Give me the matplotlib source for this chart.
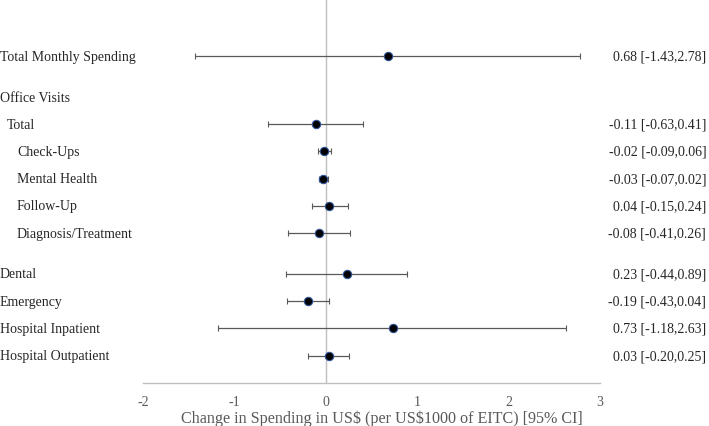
import matplotlib

matplotlib.use("Agg")

import matplotlib.pyplot as plt
import matplotlib.transforms as mtransforms

plt.rcParams["font.family"] = ["Liberation Serif", "DejaVu Serif"]

labels = [
    "Total Monthly Spending",
    "Office Visits",
    "Total",
    "Check-Ups",
    "Mental Health",
    "Follow-Up",
    "Diagnosis/Treatment",
    "Dental",
    "Emergency",
    "Hospital Inpatient",
    "Hospital Outpatient",
]
indent = [0, 0, 1, 2, 2, 2, 2, 0, 0, 0, 0]
rows = [0, 1.5, 2.5, 3.5, 4.5, 5.5, 6.5, 8, 9, 10, 11]
# None = heading row without estimate
est = [0.68, None, -0.11, -0.02, -0.03, 0.04, -0.08, 0.23, -0.19, 0.73, 0.03]
lo = [-1.43, None, -0.63, -0.09, -0.07, -0.15, -0.41, -0.44, -0.43, -1.18, -0.20]
hi = [2.78, None, 0.41, 0.06, 0.02, 0.24, 0.26, 0.89, 0.04, 2.63, 0.25]
xticks = [-2, -1, 0, 1, 2, 3]

fig = plt.figure(figsize=(7.09, 4.27), dpi=100, facecolor="white")
ax = fig.add_axes([0.2017, 0.101, 0.6446, 0.899])
ax.set_xlim(-2, 3)
ax.set_ylim(12, -2.1)

ax.axvline(0, color="#BFBFBF", lw=1.0, zorder=1)

for y, e, l, h in zip(rows, est, lo, hi):
    if e is None:
        continue
    ax.errorbar(
        e, y, xerr=[[e - l], [h - e]],
        fmt="o", color="#595959", ecolor="#595959", elinewidth=0.9,
        capsize=2.3, capthick=0.9,
        markerfacecolor="black", markeredgecolor="#2F5597",
        markeredgewidth=0.8, markersize=6, zorder=3,
    )

trans = mtransforms.blended_transform_factory(fig.transFigure, ax.transData)
for lab, ind, y, e, l, h in zip(labels, indent, rows, est, lo, hi):
    ax.text(
        [0.0, 0.010, 0.024][ind], y, lab, transform=trans,
        ha="left", va="center", fontsize=10, color="#262626",
    )
    if e is not None:
        ax.text(
            0.996, y, f"{e:.2f} [{l:.2f},{h:.2f}]", transform=trans,
            ha="right", va="center", fontsize=10, color="#262626",
        )

ax.set_yticks([])
ax.set_xticks(xticks)
ax.set_xticklabels([str(t) for t in xticks], fontsize=10, color="#595959")
ax.tick_params(axis="x", length=0, pad=9)
ax.set_xlabel(r"Change in Spending in US\$ (per US\$1000 of EITC) [95% CI]",
              fontsize=11.6, color="#595959")
ax.xaxis.set_label_coords(0.523, -0.069)
for s in ["top", "right", "left"]:
    ax.spines[s].set_visible(False)
ax.spines["bottom"].set_color("#BFBFBF")
ax.spines["bottom"].set_linewidth(1.0)

fig.savefig("out.png", dpi=100, facecolor="white")
